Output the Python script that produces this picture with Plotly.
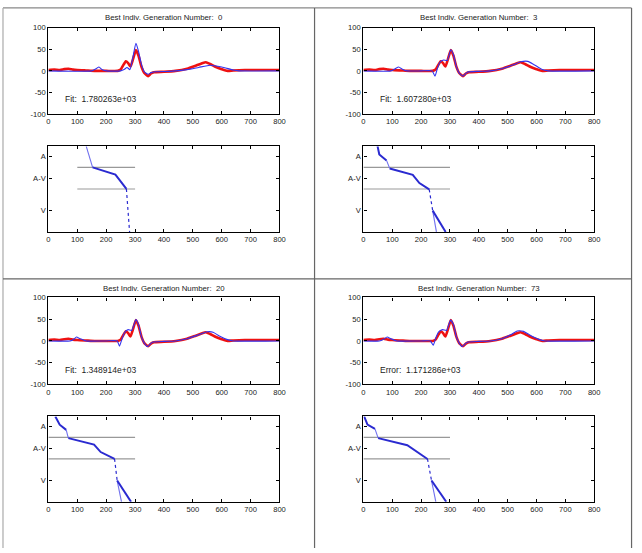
import plotly.graph_objects as go

W, H = 642, 553

# ---------------- data ----------------
GENERATIONS = [0, 3, 20, 73]
SCORE_LABELS = ["Fit:&nbsp; 1.780263e+03", "Fit:&nbsp; 1.607280e+03",
                "Fit:&nbsp; 1.348914e+03", "Error:&nbsp; 1.171286e+03"]

X_TICKS = [0, 100, 200, 300, 400, 500, 600, 700, 800]
Y_TICKS_TOP = [-100, -50, 0, 50, 100]
Y_TICKTEXT_TOP = ["-100", "-50", "0", "50", "100"]
Y_TICKS_BOTTOM = [2, 0, -3]
Y_TICKTEXT_BOTTOM = ["A", "A-V", "V"]

# measured signal (red)
RED_X = [0, 20, 40, 55, 70, 85, 100, 130, 160, 200, 240, 250, 258, 268, 276, 284, 292, 303, 312, 322,
         332, 345, 355, 365, 400, 440, 480, 510, 530, 545, 560, 580, 600, 620, 640, 680, 720, 760, 800]
RED_Y = [2, 3, 2, 4, 5, 3, 2, 1, 0, 0, 0, 3, 12, 22, 18, 10, 25, 48, 35, 10,
         -5, -12, -6, -3, -2, 0, 5, 12, 17, 20, 16, 9, 4, 0, 1, 2, 2, 2, 2]

# model signals (blue) for each generation
BLUE0_X = [0, 150, 165, 175, 185, 200, 250, 262, 272, 282, 292, 303, 312, 322, 332, 345, 355, 370, 420,
           480, 520, 560, 600, 640, 660, 800]
BLUE0_Y = [0, 0, 5, 9, 3, 0, 0, 3, 8, 3, 30, 64, 45, 15, -2, -8, -4, -2, -1, 3, 8, 13, 9, 2, 0, 0]

BLUE3_X = [0, 95, 110, 122, 135, 150, 200, 238, 248, 256, 265, 278, 290, 303, 312, 322, 332, 345, 360,
           400, 440, 480, 520, 545, 570, 590, 620, 640, 800]
BLUE3_Y = [0, 0, 5, 9, 4, 0, 0, 0, -12, 5, 20, 25, 24, 49, 38, 10, -5, -12, -3, -1, 0, 5, 14, 21, 22,
           15, 3, 0, 0]

BLUE20_X = [0, 75, 88, 97, 110, 130, 200, 238, 246, 255, 264, 276, 288, 303, 312, 322, 332, 343, 360,
            400, 440, 480, 520, 550, 570, 590, 620, 640, 800]
BLUE20_Y = [0, 0, 4, 9, 5, 0, 0, 0, -12, 5, 20, 26, 24, 49, 38, 10, -5, -13, -3, -1, 0, 5, 14, 21, 20,
            12, 3, 0, 0]

BLUE73_X = [0, 55, 70, 82, 95, 115, 200, 232, 242, 250, 260, 274, 288, 302, 312, 322, 332, 342, 360,
            400, 440, 480, 510, 533, 555, 575, 610, 630, 800]
BLUE73_Y = [0, 0, 4, 9, 5, 0, 0, 0, -10, 5, 20, 26, 24, 48, 38, 10, -5, -13, -3, -1, 0, 5, 14, 23, 22,
            14, 3, 0, 0]

# timing diagrams (bottom plots): thick, thin and dashed segments
T0_THICK_X = [153, 232, 270]
T0_THICK_Y = [1, 0.33, -1]
T0_THIN_X = [131, 153]
T0_THIN_Y = [2.94, 1]
T0_DASH_X = [270, 281]
T0_DASH_Y = [-1, -4.97]
T0_GRID_X = [100, 300]

T3_THICK_X = [49, 55, 80, None, 91, 171, 194, 228, None, 240, 285]
T3_THICK_Y = [2.94, 2.18, 1.64, None, 0.9, 0.3, -0.45, -1.04, None, -3, -4.97]
T3_THIN_X = [80, 91, None, 240, 253]
T3_THIN_Y = [1.64, 0.9, None, -3, -4.97]
T3_DASH_X = [228, 240]
T3_DASH_Y = [-1.04, -3]
T3_GRID_X = [0, 300]

T20_THICK_X = [24, 39, 61.5, None, 69, 158, 181, 229, None, 238, 286]
T20_THICK_Y = [2.94, 2.18, 1.7, None, 0.93, 0.33, -0.36, -1, None, -3, -4.97]
T20_THIN_X = [61.5, 69, None, 238, 253]
T20_THIN_Y = [1.7, 0.93, None, -3, -4.97]
T20_DASH_X = [229, 238]
T20_DASH_Y = [-1, -3]
T20_GRID_X = [0, 300]

T73_THICK_X = [2.4, 14, 40, None, 51, 152, 222, None, 236, 287]
T73_THICK_Y = [2.94, 2.18, 1.79, None, 0.93, 0.27, -1, None, -3, -4.97]
T73_THIN_X = [40, 51, None, 236, 251]
T73_THIN_Y = [1.79, 0.93, None, -3, -4.97]
T73_DASH_X = [222, 236]
T73_DASH_Y = [-1, -3]
T73_GRID_X = [0, 300]

GRID_LEVELS = [1, -1]

# ---------------- layout helpers ----------------
def dx(a, b):
    return [a / W, b / W]

def dy(top, bottom):
    return [1 - bottom / H, 1 - top / H]

LEFT = (47, 281)
RIGHT = (366, 599.7)
ROWS_TOP = [(24, 112), (298.3, 386.7)]
ROWS_BOT = [(144.7, 231.7), (419.3, 506)]
TITLE_Y = [14, 289]

panels = [
    dict(col=LEFT, row=0, blue=(BLUE0_X, BLUE0_Y),
         thick=(T0_THICK_X, T0_THICK_Y), thin=(T0_THIN_X, T0_THIN_Y), dash=(T0_DASH_X, T0_DASH_Y), grid=T0_GRID_X),
    dict(col=RIGHT, row=0, blue=(BLUE3_X, BLUE3_Y),
         thick=(T3_THICK_X, T3_THICK_Y), thin=(T3_THIN_X, T3_THIN_Y), dash=(T3_DASH_X, T3_DASH_Y), grid=T3_GRID_X),
    dict(col=LEFT, row=1, blue=(BLUE20_X, BLUE20_Y),
         thick=(T20_THICK_X, T20_THICK_Y), thin=(T20_THIN_X, T20_THIN_Y), dash=(T20_DASH_X, T20_DASH_Y), grid=T20_GRID_X),
    dict(col=RIGHT, row=1, blue=(BLUE73_X, BLUE73_Y),
         thick=(T73_THICK_X, T73_THICK_Y), thin=(T73_THIN_X, T73_THIN_Y), dash=(T73_DASH_X, T73_DASH_Y), grid=T73_GRID_X),
]

FONT = "Liberation Sans, Arial, sans-serif"
TXT = "#222222"
fig = go.Figure()
layout = dict(width=W, height=H, margin=dict(l=0, r=0, t=0, b=0), autosize=False,
              paper_bgcolor="white", plot_bgcolor="white", showlegend=False,
              font=dict(family=FONT, size=7.5, color=TXT))
annotations = []
shapes = []

axis_common = dict(showline=True, linecolor="black", linewidth=1.3, mirror="ticks",
                   ticks="inside", ticklen=3, tickcolor="black", showgrid=False, zeroline=False,
                   tickfont=dict(family=FONT, size=7.6, color=TXT), fixedrange=True)

THICK_BLUE = "#2a2ad0"
THIN_BLUE = "#7070ee"

for i, p in enumerate(panels):
    top_idx = 2 * i + 1
    bot_idx = 2 * i + 2
    xa_top, ya_top = f"x{top_idx}", f"y{top_idx}"
    xa_bot, ya_bot = f"x{bot_idx}", f"y{bot_idx}"
    t0, t1 = ROWS_TOP[p["row"]]
    b0, b1 = ROWS_BOT[p["row"]]

    layout[f"xaxis{top_idx}"] = dict(domain=dx(*p["col"]), anchor=ya_top, range=[0, 800],
                                     tickvals=X_TICKS, **axis_common)
    layout[f"yaxis{top_idx}"] = dict(domain=dy(t0, t1), anchor=xa_top, range=[-100, 100],
                                     tickvals=Y_TICKS_TOP, ticktext=Y_TICKTEXT_TOP, **axis_common)
    layout[f"xaxis{bot_idx}"] = dict(domain=dx(*p["col"]), anchor=ya_bot, range=[0, 800],
                                     tickvals=X_TICKS, **axis_common)
    layout[f"yaxis{bot_idx}"] = dict(domain=dy(b0, b1), anchor=xa_bot, range=[-4.97, 2.94],
                                     tickvals=Y_TICKS_BOTTOM, ticktext=Y_TICKTEXT_BOTTOM, **axis_common)

    # signals
    fig.add_trace(go.Scatter(x=RED_X, y=RED_Y, mode="lines",
                             line=dict(color="#ee1111", width=2.6, shape="spline", smoothing=0.5),
                             xaxis=xa_top, yaxis=ya_top, hoverinfo="skip"))
    bx, by = p["blue"]
    fig.add_trace(go.Scatter(x=bx, y=by, mode="lines",
                             line=dict(color="#3333ee", width=1.1, shape="spline", smoothing=0.5),
                             xaxis=xa_top, yaxis=ya_top, hoverinfo="skip"))

    # timing diagram
    for lvl in GRID_LEVELS:
        fig.add_trace(go.Scatter(x=p["grid"], y=[lvl, lvl], mode="lines",
                                 line=dict(color="#999999", width=1.2),
                                 xaxis=xa_bot, yaxis=ya_bot, hoverinfo="skip"))
    fig.add_trace(go.Scatter(x=p["thin"][0], y=p["thin"][1], mode="lines",
                             line=dict(color=THIN_BLUE, width=1.1),
                             xaxis=xa_bot, yaxis=ya_bot, hoverinfo="skip"))
    fig.add_trace(go.Scatter(x=p["dash"][0], y=p["dash"][1], mode="lines",
                             line=dict(color=THICK_BLUE, width=1.2, dash="dot"),
                             xaxis=xa_bot, yaxis=ya_bot, hoverinfo="skip"))
    fig.add_trace(go.Scatter(x=p["thick"][0], y=p["thick"][1], mode="lines",
                             line=dict(color=THICK_BLUE, width=2.0),
                             xaxis=xa_bot, yaxis=ya_bot, hoverinfo="skip", connectgaps=False))

    # title
    cx = (p["col"][0] + p["col"][1]) / 2 / W
    annotations.append(dict(text=f"Best Indiv. Generation Number:&nbsp; {GENERATIONS[i]}",
                            x=cx, y=1 - TITLE_Y[p["row"]] / H, xref="paper", yref="paper",
                            xanchor="center", yanchor="middle", showarrow=False,
                            font=dict(family=FONT, size=7.8, color=TXT)))
    annotations.append(dict(text=SCORE_LABELS[i], x=50, y=-66, xref=xa_top, yref=ya_top,
                            xanchor="left", yanchor="middle", showarrow=False,
                            font=dict(family=FONT, size=8.5, color=TXT)))

# frame lines
FRAME = "#666666"
def pline(x0, y0, x1, y1, color=FRAME, width=1.2):
    shapes.append(dict(type="line", xref="paper", yref="paper",
                       x0=x0 / W, y0=1 - y0 / H, x1=x1 / W, y1=1 - y1 / H,
                       line=dict(color=color, width=width)))

pline(1, 4, 637.5, 4, color="#888888")
pline(1, 4, 1, 553, color="#aaaaaa")
pline(316.5, 4, 316.5, 553)
pline(637.5, 4, 637.5, 553)
pline(1, 279.5, 637.5, 279.5)

layout["annotations"] = annotations
layout["shapes"] = shapes
fig.update_layout(**layout)
fig.write_html("out.html")
